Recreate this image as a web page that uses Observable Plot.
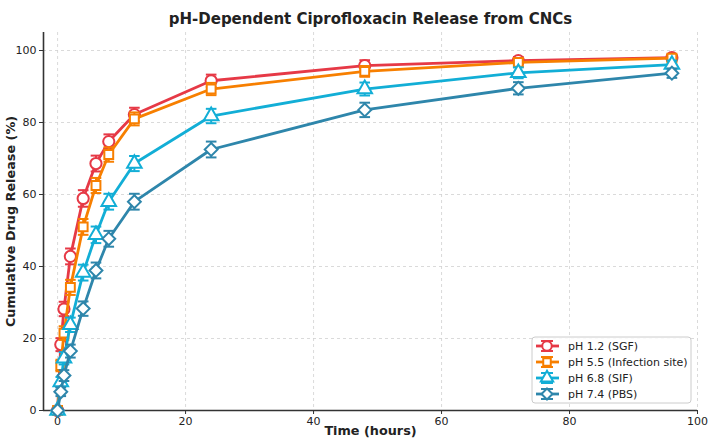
<!DOCTYPE html>
<html>
<head>
<meta charset="utf-8">
<script src="https://cdn.jsdelivr.net/npm/d3@7"></script>
<script src="https://cdn.jsdelivr.net/npm/@observablehq/plot@0.6"></script>
<style>
  body { margin: 0; background: #fff; }
  #chart { position: relative; width: 708px; height: 444px; }
  svg { font-family: "DejaVu Sans", sans-serif; }
</style>
</head>
<body>
<div id="chart"></div>
<script>
// Sampling times (hours)
const times = [0, 0.5, 1, 2, 4, 6, 8, 12, 24, 48, 72, 96];

// Cumulative release (%) per medium
const ph12 = [0, 18.3, 28.2, 42.8, 58.9, 68.6, 74.7, 82.2, 91.6, 95.8, 97.2, 98.0];
const ph55 = [0, 12.5, 21.5, 34.2, 51.0, 62.5, 71.1, 81.0, 89.3, 94.2, 96.7, 97.9];
const ph68 = [0, 7.9, 14.5, 23.8, 38.3, 48.8, 58.0, 68.6, 81.8, 89.3, 93.8, 96.1];
const ph74 = [0, 5.2, 9.7, 16.5, 28.3, 38.9, 47.7, 58.0, 72.5, 83.5, 89.5, 93.7];

// Standard deviations (%)
const sd12 = [0.5, 1.8, 2.0, 2.2, 2.3, 2.2, 2.0, 1.9, 1.7, 1.5, 1.0, 0.8];
const sd55 = [0.5, 1.6, 1.9, 2.1, 2.2, 2.1, 2.0, 1.8, 1.7, 1.5, 1.2, 0.9];
const sd68 = [0.5, 1.4, 1.7, 2.0, 2.2, 2.3, 2.2, 2.1, 2.0, 1.8, 1.5, 1.1];
const sd74 = [0.5, 1.2, 1.5, 1.8, 2.0, 2.2, 2.2, 2.2, 2.2, 2.0, 1.7, 1.3];

const seriesNames = ["pH 1.2 (SGF)", "pH 5.5 (Infection site)", "pH 6.8 (SIF)", "pH 7.4 (PBS)"];
const seriesColors = ["#e63946", "#f77f00", "#12aed6", "#2e86ab"];
const seriesSymbols = ["circle", "square", "triangle", "diamond2"];
const seriesRadius = [5.6, 5.0, 5.4, 5.8];

const xTicks = [0, 20, 40, 60, 80, 100];
const yTicks = [0, 20, 40, 60, 80, 100];

const values = [ph12, ph55, ph68, ph74];
const errors = [sd12, sd55, sd68, sd74];

const rows = seriesNames.flatMap((name, s) =>
  times.map((t, i) => ({
    series: name, idx: s, time: t,
    release: values[s][i],
    lo: values[s][i] - errors[s][i],
    hi: values[s][i] + errors[s][i]
  }))
);

// Horizontal cap drawn as a symbol, so error-bar caps keep a constant pixel width
const capSymbol = {
  draw(context, size) {
    const w = Math.sqrt(size) / 2;
    context.moveTo(-w, 0);
    context.lineTo(w, 0);
  }
};

const seriesMarks = seriesNames.flatMap((name, s) => {
  const d = rows.filter(r => r.idx === s);
  const color = seriesColors[s];
  return [
    Plot.line(d, {x: "time", y: "release", stroke: color, strokeWidth: 2.8}),
    Plot.ruleX(d, {x: "time", y1: "lo", y2: "hi", stroke: color, strokeWidth: 2}),
    Plot.dot(d, {x: "time", y: "lo", symbol: capSymbol, r: 6, stroke: color, strokeWidth: 2, fill: "none"}),
    Plot.dot(d, {x: "time", y: "hi", symbol: capSymbol, r: 6, stroke: color, strokeWidth: 2, fill: "none"}),
    Plot.dot(d, {x: "time", y: "release", symbol: seriesSymbols[s], r: seriesRadius[s], stroke: color, strokeWidth: 2, fill: "white"})
  ];
});

const xMin = -2.2;

const chart = Plot.plot({
  width: 708,
  height: 444,
  marginLeft: 43,
  marginRight: 11,
  marginTop: 32,
  marginBottom: 34,
  style: {fontFamily: "DejaVu Sans, sans-serif", fontSize: "11px", color: "#333", background: "#fff"},
  x: {domain: [xMin, 100], label: null},
  y: {domain: [0, 105], label: null},
  marks: [
    Plot.gridX(xTicks, {stroke: "#d0d0d0", strokeOpacity: 1, strokeDasharray: "3,3", strokeWidth: 0.8}),
    Plot.gridY(yTicks, {stroke: "#d0d0d0", strokeOpacity: 1, strokeDasharray: "3,3", strokeWidth: 0.8}),
    Plot.axisX(xTicks, {tickSize: 4, tickPadding: 3, stroke: "#333", fill: "#222", label: null}),
    Plot.axisY(yTicks, {tickSize: 4, tickPadding: 3, stroke: "#333", fill: "#222", label: null}),
    Plot.ruleX([xMin], {stroke: "#333", strokeWidth: 1.6}),
    Plot.ruleY([0], {stroke: "#333", strokeWidth: 1.6}),
    ...seriesMarks,
    Plot.text(["pH-Dependent Ciprofloxacin Release from CNCs"], {
      frameAnchor: "top", dy: -19, fontSize: 15, fontWeight: "bold", fill: "#222"
    }),
    Plot.text(["Time (hours)"], {
      frameAnchor: "bottom", dy: 24, fontSize: 12.8, fontWeight: "bold", fill: "#222"
    }),
    Plot.text(["Cumulative Drug Release (%)"], {
      frameAnchor: "left", textAnchor: "middle", dx: -33, rotate: -90,
      fontSize: 12.8, fontWeight: "bold", fill: "#222"
    })
  ]
});

document.getElementById("chart").appendChild(chart);

// Legend in the lower-right corner of the plotting area
const svg = d3.select(chart);
const lg = svg.append("g").attr("transform", "translate(532,337)");
lg.append("rect")
  .attr("width", 159).attr("height", 66).attr("rx", 3)
  .attr("fill", "white").attr("fill-opacity", 0.85)
  .attr("stroke", "#ccc").attr("stroke-width", 1);

const symbolTypes = {circle: d3.symbolCircle, square: d3.symbolSquare, triangle: d3.symbolTriangle, diamond2: d3.symbolDiamond2};
seriesNames.forEach((name, s) => {
  const cy = 9 + s * 16;
  const color = seriesColors[s];
  const g = lg.append("g").attr("transform", `translate(15,${cy})`);
  g.append("line").attr("x1", -11).attr("x2", 12).attr("stroke", color).attr("stroke-width", 2.8);
  g.append("line").attr("y1", -5).attr("y2", 5).attr("stroke", color).attr("stroke-width", 2);
  g.append("line").attr("x1", -6).attr("x2", 6).attr("y1", -5).attr("y2", -5).attr("stroke", color).attr("stroke-width", 2);
  g.append("line").attr("x1", -6).attr("x2", 6).attr("y1", 5).attr("y2", 5).attr("stroke", color).attr("stroke-width", 2);
  const r = seriesRadius[s] * 0.85;
  g.append("path")
    .attr("d", d3.symbol(symbolTypes[seriesSymbols[s]], Math.PI * r * r)())
    .attr("fill", "white").attr("stroke", color).attr("stroke-width", 2);
  lg.append("text")
    .attr("x", 36).attr("y", cy).attr("dy", "0.35em")
    .attr("text-anchor", "start")
    .attr("font-size", 11).attr("fill", "#222")
    .text(name);
});
</script>
</body>
</html>
